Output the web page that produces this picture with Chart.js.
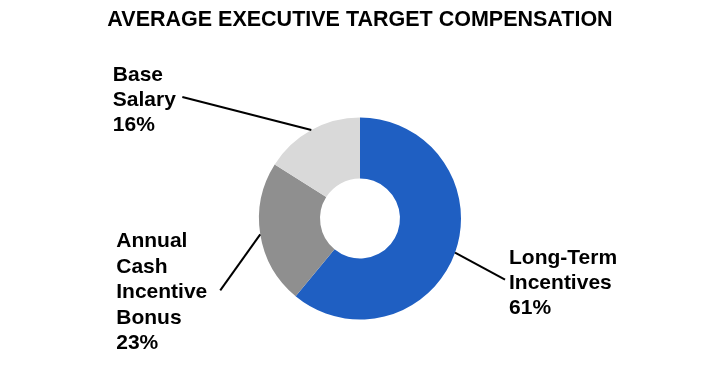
<!DOCTYPE html>
<html>
<head>
<meta charset="utf-8">
<script src="https://cdn.jsdelivr.net/npm/chart.js@4"></script>
<style>
  html, body { margin: 0; padding: 0; background: #fff; }
  #wrap { width: 720px; height: 384px; position: relative; }
</style>
</head>
<body>
<div id="wrap"><canvas id="c" width="720" height="384"></canvas></div>
<script>
const categories = ["Long-Term Incentives", "Annual Cash Incentive Bonus", "Base Salary"];
const labelLines = [["Long-Term", "Incentives"], ["Annual", "Cash", "Incentive", "Bonus"], ["Base", "Salary"]];
const values = [61, 23, 16];
const titleText = "AVERAGE EXECUTIVE TARGET COMPENSATION";

const colors = ["#1f5fc2", "#8f8f8f", "#d9d9d9"];
const FONT = "'Liberation Sans', Arial, sans-serif";

// label layout: offset from arc mid-point to leader end, and text block origin (left, first baseline) relative to leader end
const labelLayout = [
  { lead: [50, 27],    text: [4, -16],     lh: 25 },
  { lead: [-40, 56],   text: [-104, -43],  lh: 25.5 },
  { lead: [-129, -33], text: [-69.5, -15.7], lh: 25 }
];

const leaderPlugin = {
  id: 'leaders',
  afterDatasetsDraw(chart) {
    const ctx = chart.ctx;
    const meta = chart.getDatasetMeta(0);
    meta.data.forEach((arc, i) => {
      const p = arc.getProps(['x', 'y', 'startAngle', 'endAngle', 'outerRadius'], true);
      const mid = (p.startAngle + p.endAngle) / 2;
      const ax = p.x + Math.cos(mid) * p.outerRadius;
      const ay = p.y + Math.sin(mid) * p.outerRadius;
      const L = labelLayout[i];
      const ex = ax + L.lead[0], ey = ay + L.lead[1];
      ctx.save();
      ctx.strokeStyle = "#000";
      ctx.lineWidth = 2;
      ctx.beginPath();
      ctx.moveTo(ax, ay);
      ctx.lineTo(ex, ey);
      ctx.stroke();
      ctx.fillStyle = "#000";
      ctx.font = "bold 21px " + FONT;
      ctx.textAlign = "left";
      ctx.textBaseline = "alphabetic";
      const lines = labelLines[i].concat([values[i] + "%"]);
      lines.forEach((t, k) => {
        ctx.fillText(t, ex + L.text[0], ey + L.text[1] + k * L.lh);
      });
      ctx.restore();
    });
  }
};

new Chart(document.getElementById('c'), {
  type: 'doughnut',
  data: {
    labels: categories,
    datasets: [{
      data: values,
      backgroundColor: colors,
      borderWidth: 0,
      hoverOffset: 0
    }]
  },
  options: {
    responsive: false,
    animation: false,
    cutout: '39.6%',
    layout: { padding: { top: 0, bottom: 64.5, left: 0, right: 0 } },
    plugins: {
      legend: { display: false },
      tooltip: { enabled: false },
      title: {
        display: true,
        text: titleText,
        color: "#000",
        font: { family: FONT, size: 21.5, weight: 'bold', lineHeight: 1.2 },
        padding: { top: 7.6, bottom: 84.1 }
      }
    }
  },
  plugins: [leaderPlugin]
});
</script>
</body>
</html>
